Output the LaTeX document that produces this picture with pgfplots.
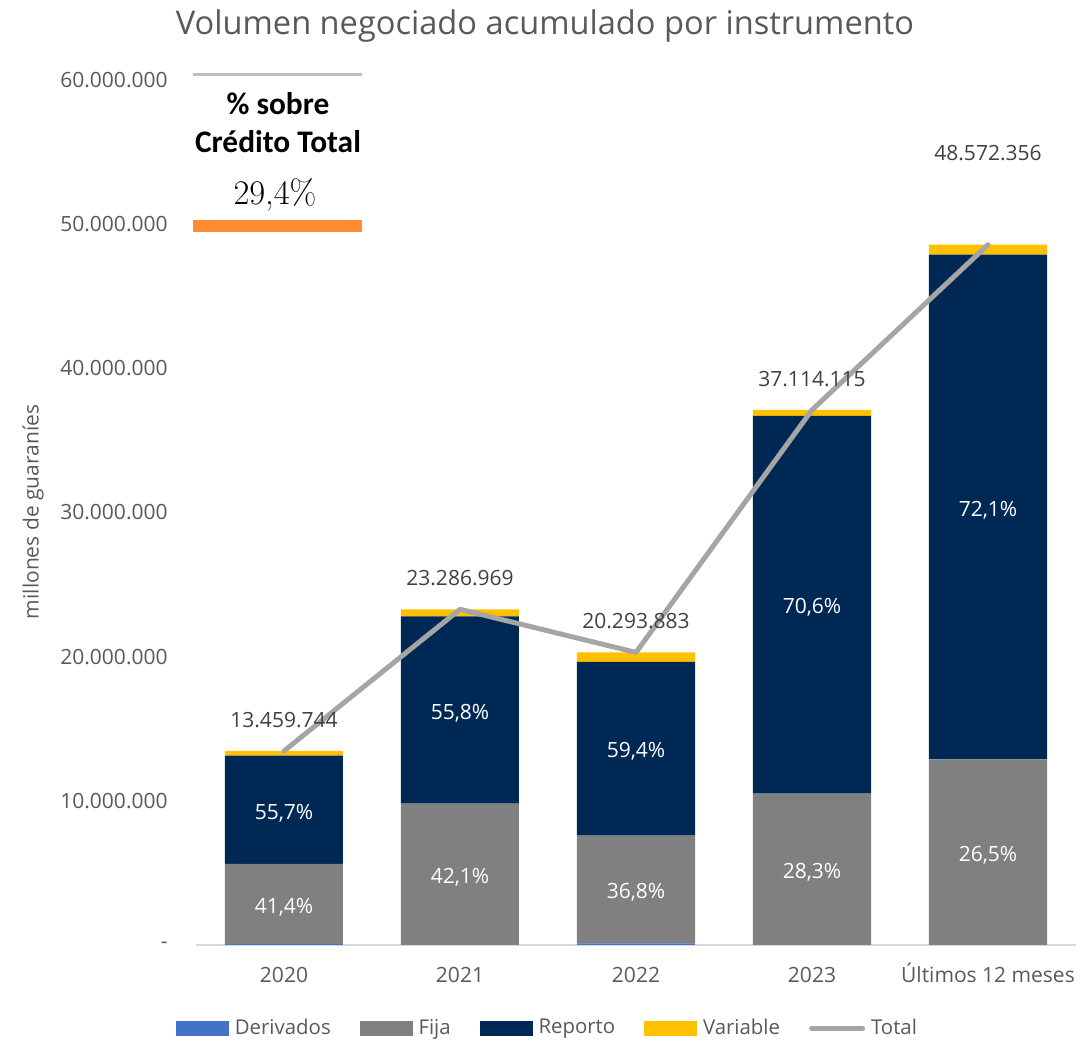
\documentclass[border=0pt]{standalone}
\usepackage{fontspec}
\setmainfont{Open Sans}
\newfontfamily\carlito{Carlito}
\usepackage{pgfplots}
\pgfplotsset{compat=1.18}
\usepackage{pgfplotstable}

\definecolor{cDer}{HTML}{4472C4}
\definecolor{cFija}{HTML}{808080}
\definecolor{cRep}{HTML}{002855}
\definecolor{cVar}{HTML}{FFC000}
\definecolor{cTot}{HTML}{A5A5A5}
\definecolor{cOr}{HTML}{FF8B33}
\definecolor{cTxt}{HTML}{595959}
\definecolor{cLbl}{HTML}{404040}
\definecolor{cAx}{HTML}{D9D9D9}
\definecolor{cTop}{HTML}{BFBFBF}

\pgfplotstableread{
x der fija rep var total
0 60000 5572334 7497077 330333 13459744
1 0 9803814 12994129 489026 23286969
2 120000 7468149 12054566 651168 20293883
3 0 10503295 26202565 408255 37114115
4 0 12871674 35020669 680013 48572356
}\data

\pgfplotsset{
  barleg/.style={legend image code/.code={\fill[#1] (0pt,-3.5pt) rectangle (26pt,3.5pt);}},
}
\tikzset{pct/.style={font=\fontsize{10.5}{12}\selectfont, text=white, anchor=center, inner sep=0pt, yshift=-1.5pt},
  tot/.style={font=\fontsize{10.5}{12}\selectfont, text=cLbl, anchor=center, inner sep=0pt}}

\begin{document}
\begin{tikzpicture}
\begin{axis}[
  at={(0pt,0pt)}, anchor=south west,
  scale only axis, width=440pt, height=432.5pt,
  xmin=-0.5, xmax=4.5, ymin=0, ymax=60000000,
  ybar stacked, bar width=59pt,
  axis x line=bottom, axis y line=left,
  axis line style={-},
  x axis line style={cAx, line width=1pt},
  y axis line style={draw=none},
  major tick length=0pt,
  xtick={0,1,2,3,4},
  xticklabels={2020,2021,2022,2023,Últimos 12 meses},
  ytick={0,10000000,20000000,30000000,40000000,50000000,60000000},
  yticklabels={-,10.000.000,20.000.000,30.000.000,40.000.000,50.000.000,60.000.000},
  scaled y ticks=false,
  tick label style={font=\fontsize{10.5}{12}\selectfont, text=cTxt},
  xticklabel style={anchor=base, inner sep=0pt, yshift=-19pt},
  yticklabel style={anchor=east, inner sep=0pt, xshift=-14pt},
  clip=false,
]
\addplot[fill=cDer, draw=none] table[x=x, y=der]{\data};
\addplot[fill=cFija, draw=none] table[x=x, y=fija]{\data};
\addplot[fill=cRep, draw=none] table[x=x, y=rep]{\data};
\addplot[fill=cVar, draw=none] table[x=x, y=var]{\data};
\end{axis}

\begin{axis}[
  at={(0pt,0pt)}, anchor=south west,
  scale only axis, width=440pt, height=432.5pt,
  xmin=-0.5, xmax=4.5, ymin=0, ymax=60000000,
  hide axis, clip=false,
  legend columns=5,
  legend cell align=left,
  legend style={draw=none, fill=none, at={(0.4,-0.096)}, anchor=center,
    font=\fontsize{10.2}{12}\selectfont, text=cTxt,
    /tikz/every odd column/.append style={column sep=1.5pt},
    /tikz/every even column/.append style={column sep=13pt},
    nodes={inner sep=1.5pt}},
]
\addlegendimage{barleg=cDer}\addlegendentry{Derivados}
\addlegendimage{barleg=cFija}\addlegendentry{Fija}
\addlegendimage{barleg=cRep}\addlegendentry{Reporto}
\addlegendimage{barleg=cVar}\addlegendentry{Variable}
\addlegendimage{legend image code/.code={\draw[cTot, line width=2.5pt, line cap=round] (1.25pt,0pt) -- (26.75pt,0pt);}}\addlegendentry{Total}

\addplot[cTot, line width=2.5pt, line cap=round, line join=round, mark=none, forget plot]
  table[x=x, y=total]{\data};

\node[pct] at (axis cs:0,2846000) {41,4\%};
\node[pct] at (axis cs:0,9381000) {55,7\%};
\node[pct] at (axis cs:1,4902000) {42,1\%};
\node[pct] at (axis cs:1,16301000) {55,8\%};
\node[pct] at (axis cs:2,3854000) {36,8\%};
\node[pct] at (axis cs:2,13615000) {59,4\%};
\node[pct] at (axis cs:3,5252000) {28,3\%};
\node[pct] at (axis cs:3,23604000) {70,6\%};
\node[pct] at (axis cs:4,6436000) {26,5\%};
\node[pct] at (axis cs:4,30382000) {72,1\%};

\node[tot, yshift=15.5pt] at (axis cs:0,13459744) {13.459.744};
\node[tot, yshift=15.5pt] at (axis cs:1,23286969) {23.286.969};
\node[tot, yshift=15.5pt] at (axis cs:2,20293883) {20.293.883};
\node[tot, yshift=15.5pt] at (axis cs:3,37114115) {37.114.115};
\node[tot, yshift=46pt] at (axis cs:4,48572356) {48.572.356};

% title
\node[anchor=base, font=\fontsize{16.3}{19}\selectfont, text=cTxt, inner sep=0pt]
  at ([xshift=-45.5pt, yshift=455pt]rel axis cs:0.5,0) {Volumen negociado acumulado por instrumento};
% y label
\node[rotate=90, anchor=center, font=\fontsize{10.5}{12}\selectfont, text=cTxt, inner sep=0pt]
  at ([xshift=-81.5pt, yshift=216.5pt]rel axis cs:0,0) {millones de guaraníes};
% annotation box
\draw[cTop, line width=1.5pt] ([xshift=-1.5pt, yshift=435pt]rel axis cs:0,0) -- ++(84.5pt,0pt);
\node[anchor=base, font=\carlito\bfseries\fontsize{15.7}{18}\selectfont, inner sep=0pt]
  at ([xshift=41pt, yshift=415pt]rel axis cs:0,0) {\% sobre};
\node[anchor=base, font=\carlito\bfseries\fontsize{15.7}{18}\selectfont, inner sep=0pt]
  at ([xshift=41pt, yshift=396pt]rel axis cs:0,0) {Crédito Total};
\node[anchor=base, inner sep=0pt]
  at ([xshift=39.5pt, yshift=370pt]rel axis cs:0,0) {\usefont{OT1}{cmr}{m}{n}\fontsize{17}{20}\selectfont 29,4\%};
\fill[cOr] ([xshift=-1.5pt, yshift=356.5pt]rel axis cs:0,0) rectangle ++(84.5pt,6pt);
\end{axis}
\path (-98pt,-47.5pt) rectangle (442.5pt,472.5pt);
\end{tikzpicture}
\end{document}
